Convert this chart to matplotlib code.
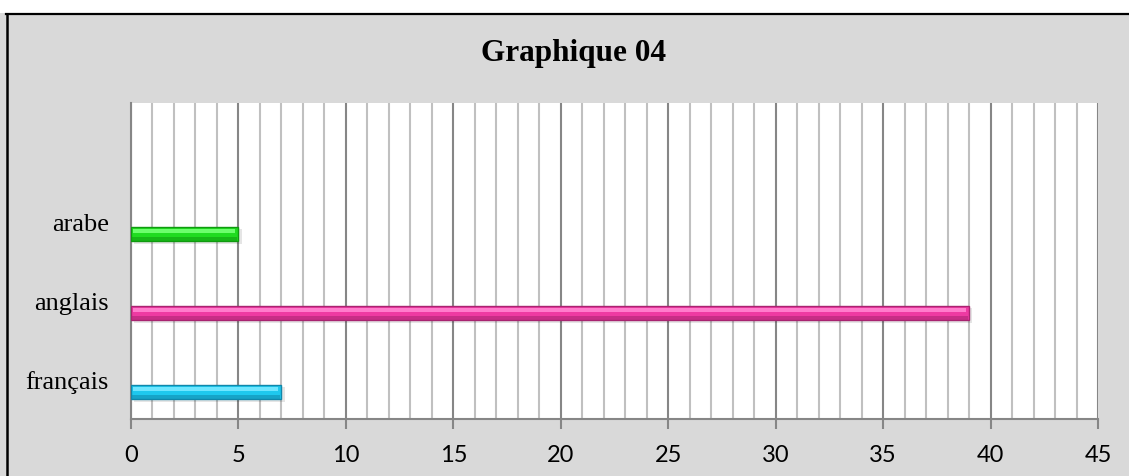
import matplotlib
matplotlib.use("Agg")
import matplotlib.pyplot as plt
from matplotlib.patches import Rectangle
from matplotlib.lines import Line2D
from matplotlib.ticker import MultipleLocator

categories = ["français", "anglais", "arabe", ""]
values = [7, 39, 5]
main_colors = ["#1ec8ee", "#ee3aa2", "#20dc20"]
light_colors = ["#6fe6ff", "#ff7ccc", "#6cff6c"]
dark_colors = ["#1187aa", "#a82470", "#109a10"]
x_ticks = [0, 5, 10, 15, 20, 25, 30, 35, 40, 45]
title = "Graphique 04"

W, H = 1129, 477
fig = plt.figure(figsize=(W / 100, H / 100), dpi=100)
fig.patch.set_facecolor("#d9d9d9")

# white strip on top and black frame lines
fig.add_artist(Rectangle((0, 1 - 14 / H), 1, 14 / H, transform=fig.transFigure,
                         facecolor="white", edgecolor="none", zorder=0))
fig.add_artist(Line2D([6 / W, 1], [1 - 14.5 / H, 1 - 14.5 / H], transform=fig.transFigure,
                      color="black", lw=1.6))
fig.add_artist(Line2D([6.5 / W, 6.5 / W], [0, 1 - 14.5 / H], transform=fig.transFigure,
                      color="black", lw=1.8))

left, right = 131 / W, 1098 / W
bottom, top = 1 - 420 / H, 1 - 104 / H
ax = fig.add_axes([left, bottom, right - left, top - bottom])
ax.set_facecolor("white")

n = len(categories)
ypos = list(range(n))
offset = -0.16
bh = 0.18

for i, v in enumerate(values):
    y = ypos[i] + offset
    # shadow
    ax.barh(y - 0.03, v, height=bh, left=0.15, color="#000000", alpha=0.10, zorder=3)
    ax.barh(y, v, height=bh, color=main_colors[i], edgecolor=dark_colors[i], linewidth=1.0, zorder=4)
    ax.barh(y + bh * 0.22, v - 0.25, height=bh * 0.22, left=0.1, color=light_colors[i], zorder=5, linewidth=0)
    ax.barh(y - bh * 0.32, v - 0.1, height=bh * 0.3, left=0.05, color=dark_colors[i], alpha=0.55, zorder=5, linewidth=0)

ax.set_xlim(0, 45)
ax.set_ylim(-0.5, n - 0.5)
ax.set_yticks(ypos)
ax.set_yticklabels(categories, family=["Liberation Serif", "DejaVu Serif"], fontsize=19)
ax.tick_params(axis="y", length=0, pad=16)

ax.set_xticks(x_ticks)
ax.set_xticklabels([str(t) for t in x_ticks], family=["Lato", "DejaVu Sans"], fontsize=17)
ax.xaxis.set_minor_locator(MultipleLocator(1))
ax.tick_params(axis="x", which="major", length=7, width=1.5, color="#868686", pad=11)
ax.tick_params(axis="x", which="minor", length=0)

ax.grid(axis="x", which="minor", color="#c0c0c0", linewidth=1.5, zorder=1)
ax.grid(axis="x", which="major", color="#868686", linewidth=1.5, zorder=1)
ax.set_axisbelow(True)

for s in ["top", "right"]:
    ax.spines[s].set_visible(False)
ax.spines["left"].set_color("#868686")
ax.spines["left"].set_linewidth(1.5)
ax.spines["bottom"].set_color("#868686")
ax.spines["bottom"].set_linewidth(1.5)

fig.text(574 / W, 1 - 53 / H, title, ha="center", va="center",
         family=["Liberation Serif", "DejaVu Serif"], fontweight="bold", fontsize=22.5)

fig.savefig("out.png", dpi=100, facecolor=fig.get_facecolor())
